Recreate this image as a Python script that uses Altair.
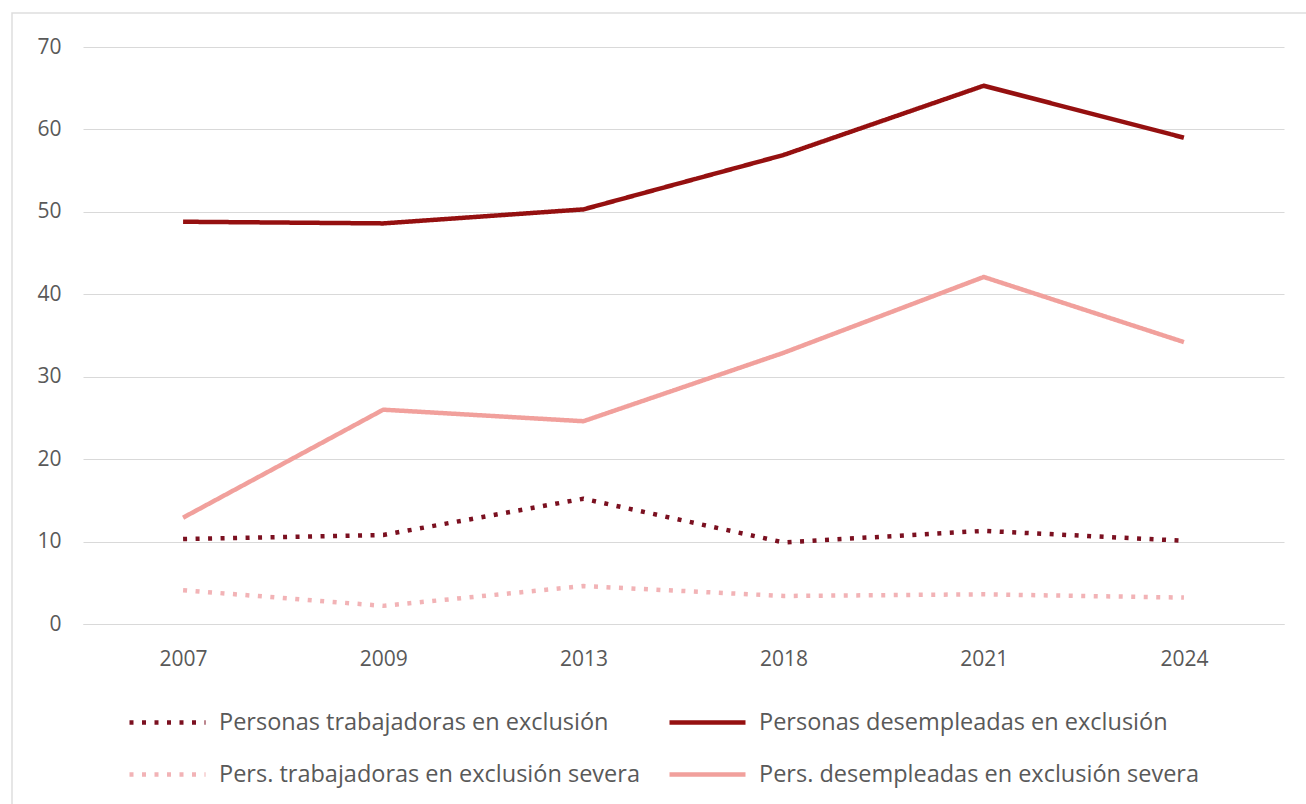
import altair as alt
import pandas as pd

years = ["2007", "2009", "2013", "2018", "2021", "2024"]
series_names = [
    "Personas trabajadoras en exclusión",
    "Personas desempleadas en exclusión",
    "Pers. trabajadoras en exclusión severa",
    "Pers. desempleadas en exclusión severa",
]
trabajadoras = [10.3, 10.8, 15.2, 9.9, 11.3, 10.1]
desempleadas = [48.8, 48.6, 50.3, 56.9, 65.3, 59.0]
trabajadoras_sev = [4.1, 2.2, 4.6, 3.4, 3.6, 3.2]
desempleadas_sev = [12.9, 26.0, 24.6, 32.9, 42.1, 34.2]

colors = ["#7b1020", "#951010", "#f2b3b6", "#f1a09c"]
dashes = [[4, 8.5], [1, 0], [4, 8.5], [1, 0]]

rows = []
for name, vals in zip(series_names, [trabajadoras, desempleadas, trabajadoras_sev, desempleadas_sev]):
    for y, v in zip(years, vals):
        rows.append({"Año": y, "Serie": name, "Valor": v})
df = pd.DataFrame(rows)

font = "Open Sans"
label_color = "#595959"

legend_kw = dict(title=None, orient="none", legendX=44, legendY=635,
                 columns=2, direction="horizontal",
                 symbolType="M-1,0H1", symbolSize=5776, symbolStrokeWidth=4.5,
                 labelFontSize=23.5, labelColor=label_color, labelFont=font,
                 labelOffset=11, columnPadding=20, rowPadding=-24,
                 labelLimit=600)

lines = alt.Chart(df).mark_line(strokeWidth=4.5, strokeCap="butt", strokeJoin="round").encode(
    x=alt.X("Año:N", sort=years, title=None,
            scale=alt.Scale(paddingInner=0, paddingOuter=0.5),
            axis=alt.Axis(labelAngle=0, ticks=False, domain=True, domainColor="#d9d9d9",
                          labelFontSize=21, labelColor=label_color, labelFont=font,
                          labelPadding=24, grid=False)),
    y=alt.Y("Valor:Q", title=None,
            scale=alt.Scale(domain=[0, 70], nice=False),
            axis=alt.Axis(values=list(range(0, 71, 10)), ticks=False, domain=False,
                          gridColor="#d9d9d9", gridWidth=1.2,
                          labelFontSize=21, labelColor=label_color, labelFont=font,
                          labelPadding=22)),
    color=alt.Color("Serie:N", sort=series_names,
                    scale=alt.Scale(domain=series_names, range=colors),
                    legend=alt.Legend(**legend_kw)),
    strokeDash=alt.StrokeDash("Serie:N", sort=series_names,
                              scale=alt.Scale(domain=series_names, range=dashes),
                              legend=alt.Legend(**legend_kw)),
    order=alt.Order("Año:N"),
)

frame = alt.Chart(pd.DataFrame({"k": [0]})).mark_rect(
    fill=None, stroke="#dedede", strokeWidth=1.5, clip=False
).encode(
    x=alt.value(-71), x2=alt.value(1230), y=alt.value(-34), y2=alt.value(766)
)

chart = alt.layer(frame, lines).properties(
    width=1201, height=577,
    autosize=alt.AutoSizeParams(type="none"),
    padding={"left": 83, "top": 47, "right": 22, "bottom": 180},
).configure(background="white").configure_view(stroke=None)

chart.save("out.html", embed_options={"renderer": "svg", "actions": False})
